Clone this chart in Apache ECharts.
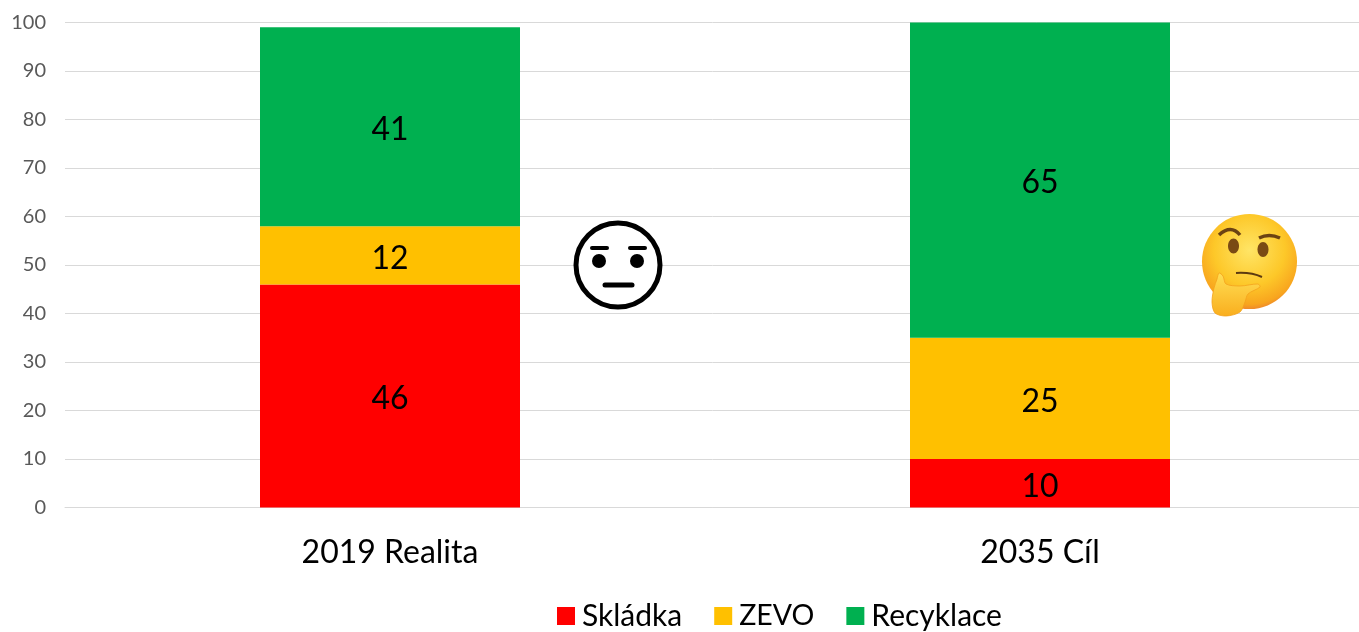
<!DOCTYPE html>
<html>
<head>
<meta charset="utf-8">
<style>
  html, body { margin: 0; padding: 0; background: #fff; overflow: hidden; }
  #chart { width: 1359px; height: 632px; }
</style>
<script src="https://cdn.jsdelivr.net/npm/echarts@6/dist/echarts.min.js"></script>
</head>
<body>
<div id="chart"></div>
<script>
const categories = ['2019 Realita', '2035 Cíl'];
const skladka = [46, 10];
const zevo = [12, 25];
const recyklace = [41, 65];

const FONT = 'Lato';

function barSeries(name, values, color) {
  return {
    name: name,
    type: 'bar',
    stack: 'total',
    data: values,
    barWidth: '40%',
    itemStyle: { color: color },
    label: { show: true, position: 'inside', offset: [0, 3], color: '#000', fontFamily: FONT, fontSize: 32 }
  };
}

// the two faces next to the bars
const neutralFace = [
  { type: 'circle', z: 10, shape: { cx: 618, cy: 265, r: 42 }, style: { fill: '#fff', stroke: '#000', lineWidth: 5 } },
  { type: 'circle', z: 10, shape: { cx: 599, cy: 261, r: 7 }, style: { fill: '#000' } },
  { type: 'circle', z: 10, shape: { cx: 637, cy: 261, r: 7 }, style: { fill: '#000' } },
  { type: 'line', z: 10, shape: { x1: 592, y1: 248, x2: 607, y2: 248 }, style: { stroke: '#000', lineWidth: 4, lineCap: 'round' } },
  { type: 'line', z: 10, shape: { x1: 630, y1: 248, x2: 645, y2: 248 }, style: { stroke: '#000', lineWidth: 4, lineCap: 'round' } },
  { type: 'line', z: 10, shape: { x1: 605, y1: 285, x2: 632, y2: 285 }, style: { stroke: '#000', lineWidth: 5, lineCap: 'round' } }
];

const faceGradient = new echarts.graphic.RadialGradient(0.5, 0.38, 0.62, [
  { offset: 0, color: '#ffe566' },
  { offset: 0.6, color: '#fdc829' },
  { offset: 0.92, color: '#f8a51e' },
  { offset: 1, color: '#ef8a2a' }
]);
const handGradient = new echarts.graphic.LinearGradient(0, 0, 0, 1, [
  { offset: 0, color: '#ffdf55' },
  { offset: 1, color: '#f9ae1e' }
]);

const thinkingFace = [
  { type: 'circle', z: 10, shape: { cx: 1249.5, cy: 261.5, r: 47.5 }, style: { fill: faceGradient } },
  { type: 'ellipse', z: 10, shape: { cx: 1233.5, cy: 246, rx: 5.5, ry: 7.5 }, style: { fill: '#7a4a14' } },
  { type: 'ellipse', z: 10, shape: { cx: 1263, cy: 249.5, rx: 5.5, ry: 7.5 }, style: { fill: '#7a4a14' } },
  { type: 'bezierCurve', z: 10, shape: { x1: 1219, y1: 235, cpx1: 1231, cpy1: 224, x2: 1240, y2: 235 }, style: { fill: 'none', stroke: '#6b4213', lineWidth: 3.5 } },
  { type: 'bezierCurve', z: 10, shape: { x1: 1259, y1: 238, cpx1: 1269, cpy1: 233, x2: 1280, y2: 238 }, style: { fill: 'none', stroke: '#6b4213', lineWidth: 3.5 } },
  { type: 'bezierCurve', z: 10, shape: { x1: 1236, y1: 273, cpx1: 1251, cpy1: 272, x2: 1262, y2: 277 }, style: { fill: 'none', stroke: '#5c3a10', lineWidth: 2 } },
  {
    type: 'polygon',
    z: 10,
    shape: {
      points: [[1219, 273], [1223, 276], [1226, 284], [1240, 286], [1258, 284], [1260, 287], [1248, 294], [1245, 302], [1240, 312], [1226, 316], [1215, 313], [1212, 302], [1214, 288], [1217, 279]],
      smooth: 0.3
    },
    style: { fill: handGradient, stroke: '#f4a21c', lineWidth: 0.8 }
  }
];

const chart = echarts.init(document.getElementById('chart'), null, { renderer: 'canvas' });
chart.setOption({
  animation: false,
  backgroundColor: '#fff',
  textStyle: { fontFamily: FONT },
  grid: { left: 65, width: 1300, top: 22.5, bottom: 124.5, outerBoundsMode: 'none' },
  legend: {
    top: 596,
    left: 552,
    icon: 'rect',
    itemWidth: 18,
    itemHeight: 18,
    itemGap: 32,
    selectedMode: false,
    textStyle: { color: '#000', fontFamily: FONT, fontSize: 30, padding: [0, 0, 0, 2] },
    data: ['Skládka', { name: 'ZEVO', textStyle: { fontSize: 28.5 } }, 'Recyklace']
  },
  xAxis: {
    type: 'category',
    data: categories,
    axisTick: { show: false },
    axisLine: { lineStyle: { color: '#d9d9d9', width: 1 } },
    axisLabel: { color: '#000', fontFamily: FONT, fontSize: 32, margin: 29 }
  },
  yAxis: {
    type: 'value',
    min: 0,
    max: 100,
    interval: 10,
    axisLine: { show: false },
    axisTick: { show: false },
    axisLabel: { color: '#595959', fontFamily: FONT, fontSize: 20, margin: 19 },
    splitLine: { lineStyle: { color: '#d9d9d9', width: 1 } }
  },
  series: [
    barSeries('Skládka', skladka, '#ff0000'),
    barSeries('ZEVO', zevo, '#ffc000'),
    barSeries('Recyklace', recyklace, '#00b050')
  ],
  graphic: neutralFace.concat(thinkingFace)
});
</script>
</body>
</html>
